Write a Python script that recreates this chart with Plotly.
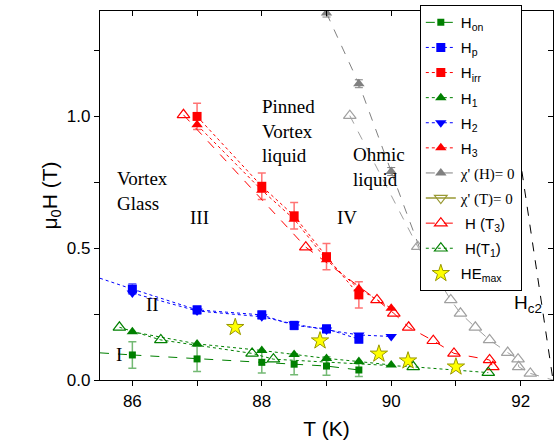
import plotly.graph_objects as go

# ---------------- data ----------------
T_on = [86, 87, 88, 88.5, 89, 89.5]
H_on = [0.095, 0.08, 0.067, 0.06, 0.053, 0.038]
H_on_err = [0.05, 0.048, 0.04, 0.04, 0.035, 0.025]
T_on_ext = [85.5, 86]
H_on_ext = [0.103, 0.095]

T_p = [86, 87, 88, 88.5, 89, 89.5]
H_p = [0.345, 0.266, 0.247, 0.207, 0.194, 0.155]
H_p_err = [0.02, 0.015, 0.015, 0.015, 0.015, 0.015]
T_p_ext = [85.5, 86]
H_p_ext = [0.386, 0.345]

T_irr = [87, 88, 88.5, 89, 89.5]
H_irr = [1.0, 0.735, 0.623, 0.468, 0.323]
H_irr_err = [0.05, 0.05, 0.05, 0.05, 0.05]

T_1 = [86, 87, 88, 88.5, 89, 89.5, 90]
H_1 = [0.183, 0.137, 0.112, 0.097, 0.082, 0.07, 0.057]

T_2 = [86, 87, 88, 88.5, 89, 89.5, 90]
H_2 = [0.33, 0.262, 0.24, 0.212, 0.19, 0.171, 0.165]

T_3 = [87, 88, 88.5, 89, 89.5, 90]
H_3 = [0.968, 0.72, 0.61, 0.456, 0.346, 0.272]

T_chiH = [89.0, 89.5, 90.0]
H_chiH = [1.392, 1.124, 0.791]
T_chiH_ext = [90.0, 90.44]
H_chiH_ext = [0.791, 0.5]

T_chiT = [89.36, 90.41, 90.92, 91.07, 91.3, 91.52, 91.8, 91.96, 91.97, 92.15]
H_chiT = [1.003, 0.506, 0.304, 0.253, 0.2, 0.152, 0.104, 0.079, 0.05, 0.025]
T_chiT_ext = [92.15, 92.5]
H_chiT_ext = [0.025, 0.0]

T_T3 = [86.79, 88.68, 89.78, 90.04, 90.27, 90.65, 90.97, 91.52, 91.57]
H_T3 = [1.006, 0.504, 0.304, 0.253, 0.2, 0.149, 0.101, 0.076, 0.05]

T_T1 = [85.8, 86.44, 87.85, 88.18, 90.34, 91.5]
H_T1 = [0.2, 0.152, 0.101, 0.079, 0.05, 0.028]

T_HE = [87.59, 88.9, 89.81, 90.26, 91.0]
H_HE = [0.2, 0.149, 0.099, 0.073, 0.05]

T_c2 = [91.65, 92.5]
H_c2 = [1.4, 0.0]

x_ticks = [86, 88, 90, 92]
y_ticks = [0.0, 0.5, 1.0]

GREEN = "#008000"
BLUE = "#0000FF"
RED = "#FF0000"
GRAY = "#808080"
OLIVE = "#999933"

fig = go.Figure()

def line_only(x, y, color, dash):
    fig.add_trace(go.Scatter(x=x, y=y, mode="lines", line=dict(color=color, width=1, dash=dash),
                             showlegend=False, hoverinfo="skip"))

# extension / guide lines
line_only(T_on_ext, H_on_ext, GREEN, "dash")
line_only(T_p_ext, H_p_ext, BLUE, "dot")
line_only(T_chiH_ext, H_chiH_ext, GRAY, "dash")
line_only(T_chiT_ext, H_chiT_ext, "#A0A0A0", "dash")
line_only(T_c2, H_c2, "black", "dash")

# gray open triangles (no legend entry)
fig.add_trace(go.Scatter(x=T_chiT, y=H_chiT, mode="lines+markers",
                         line=dict(color="#A0A0A0", width=1, dash="dash"),
                         marker=dict(symbol="triangle-up-open", size=11, color="#A0A0A0", line=dict(width=1.2)),
                         showlegend=False))

fig.add_trace(go.Scatter(x=T_on, y=H_on, mode="lines+markers", name="H<sub>on</sub>", legendgroup="g1",
                         line=dict(color=GREEN, width=1, dash="dash"),
                         marker=dict(symbol="square", size=7, color=GREEN),
                         error_y=dict(type="data", array=H_on_err, color="rgba(0,128,0,0.55)", thickness=1.5, width=4)))
fig.add_trace(go.Scatter(x=T_p, y=H_p, mode="lines+markers", name="H<sub>p</sub>", legendgroup="g2",
                         line=dict(color=BLUE, width=1, dash="dot"),
                         marker=dict(symbol="square", size=9, color=BLUE),
                         error_y=dict(type="data", array=H_p_err, color="rgba(0,0,255,0.55)", thickness=1.5, width=4)))
fig.add_trace(go.Scatter(x=T_irr, y=H_irr, mode="lines+markers", name="H<sub>irr</sub>", legendgroup="g3",
                         line=dict(color=RED, width=1, dash="dot"),
                         marker=dict(symbol="square", size=9, color=RED),
                         error_y=dict(type="data", array=H_irr_err, color="rgba(255,0,0,0.55)", thickness=1.5, width=4)))
fig.add_trace(go.Scatter(x=T_1, y=H_1, mode="lines+markers", name="H<sub>1</sub>", legendgroup="g4",
                         line=dict(color=GREEN, width=1, dash="dot"),
                         marker=dict(symbol="triangle-up", size=10, color=GREEN)))
fig.add_trace(go.Scatter(x=T_2, y=H_2, mode="lines+markers", name="H<sub>2</sub>", legendgroup="g5",
                         line=dict(color=BLUE, width=1, dash="dot"),
                         marker=dict(symbol="triangle-down", size=10, color=BLUE)))
fig.add_trace(go.Scatter(x=T_3, y=H_3, mode="lines+markers", name="H<sub>3</sub>", legendgroup="g6",
                         line=dict(color=RED, width=1, dash="dot"),
                         marker=dict(symbol="triangle-up", size=10, color=RED)))
fig.add_trace(go.Scatter(x=T_chiH, y=H_chiH, mode="lines+markers", legendgroup="g7",
                         name="<span style=\"font-family:'Liberation Serif'\">χ' (H)= 0</span>",
                         line=dict(color=GRAY, width=1, dash="dash"),
                         marker=dict(symbol="triangle-up", size=10, color=GRAY),
                         error_y=dict(type="data", array=[0.015, 0.015, 0.015], color=GRAY, thickness=1, width=4)))
fig.add_trace(go.Scatter(x=[None], y=[None], mode="lines+markers", legendgroup="g8",
                         name="<span style=\"font-family:'Liberation Serif'\">χ' (T)= 0</span>",
                         line=dict(color=OLIVE, width=1.5),
                         marker=dict(symbol="triangle-down-open", size=11, color=OLIVE, line=dict(width=1.2))))
fig.add_trace(go.Scatter(x=T_T3, y=H_T3, mode="lines+markers", name=" H (T<sub>3</sub>)", legendgroup="g9",
                         line=dict(color=RED, width=1, dash="dash"),
                         marker=dict(symbol="triangle-up-open", size=11, color=RED, line=dict(width=1.2))))
fig.add_trace(go.Scatter(x=T_T1, y=H_T1, mode="lines+markers", name=" H(T<sub>1</sub>)", legendgroup="g10",
                         line=dict(color=GREEN, width=1, dash="dot"),
                         marker=dict(symbol="triangle-up-open", size=11, color=GREEN, line=dict(width=1.2))))
fig.add_trace(go.Scatter(x=T_HE, y=H_HE, mode="markers", name="HE<sub>max</sub>", legendgroup="g11",
                         marker=dict(symbol="star", size=13, color="#FFFF00", line=dict(color="#999900", width=1))))

# dummy traces for mirrored (inside) ticks on top / right
fig.add_trace(go.Scatter(x=[None], y=[None], xaxis="x2", yaxis="y", showlegend=False, hoverinfo="skip"))
fig.add_trace(go.Scatter(x=[None], y=[None], xaxis="x", yaxis="y2", showlegend=False, hoverinfo="skip"))

serif = dict(family="Liberation Serif", size=19, color="black")
ann = [
    dict(x=85.73, y=0.718, text="Vortex<br>Glass", xanchor="left", align="left"),
    dict(x=87.04, y=0.615, text="III", xanchor="center"),
    dict(x=86.31, y=0.285, text="II", xanchor="center"),
    dict(x=85.8, y=0.095, text="I", xanchor="center"),
    dict(x=87.98, y=0.943, text="Pinned<br>Vortex<br>liquid", xanchor="left", align="left"),
    dict(x=89.38, y=0.81, text="Ohmic<br>liquid", xanchor="left", align="left"),
    dict(x=89.31, y=0.615, text="IV", xanchor="center"),
]
annotations = [dict(a, xref="x", yref="y", yanchor="middle", showarrow=False, font=serif) for a in ann]
annotations.append(dict(x=91.86, y=0.29, xref="x", yref="y", text="H<sub>c2</sub>", xanchor="left",
                        yanchor="middle", showarrow=False,
                        font=dict(family="Liberation Sans", size=19, color="black")))

axis_common = dict(showgrid=False, zeroline=False, showline=True, linecolor="black", linewidth=1.2,
                   tickcolor="black", ticklen=5, tickwidth=1.2)

fig.update_layout(
    width=555, height=441,
    margin=dict(l=100, r=2, t=11, b=61),
    paper_bgcolor="white", plot_bgcolor="white",
    font=dict(family="Liberation Sans", size=17, color="black"),
    showlegend=True,
    legend=dict(x=0.706, y=1.016, xanchor="left", yanchor="top", bgcolor="white",
                bordercolor="black", borderwidth=1, font=dict(size=15), tracegroupgap=2.6,
                itemwidth=30, maxheight=420),
    xaxis=dict(range=[85.5, 92.5], tickvals=x_ticks, ticks="outside",
               minor=dict(dtick=1, tick0=85, ticks="outside", ticklen=5, tickcolor="black"),
               title=dict(text="T (K)", font=dict(size=21), standoff=11), **axis_common),
    xaxis2=dict(range=[85.5, 92.5], overlaying="x", side="top", anchor="y", tickvals=x_ticks,
                ticks="inside", showticklabels=False,
                minor=dict(dtick=1, tick0=85, ticks="inside", ticklen=5, tickcolor="black"),
                **axis_common),
    yaxis=dict(range=[0, 1.4], tickvals=y_ticks, tickformat=".1f", ticks="outside",
               minor=dict(dtick=0.25, tick0=0, ticks="outside", ticklen=5, tickcolor="black"),
               title=dict(text="μ<sub>0</sub>H (T)", font=dict(size=21), standoff=3), **axis_common),
    yaxis2=dict(range=[0, 1.4], overlaying="y", side="right", anchor="x", tickvals=y_ticks,
                ticks="inside", showticklabels=False,
                minor=dict(dtick=0.25, tick0=0, ticks="inside", ticklen=5, tickcolor="black"),
                **axis_common),
    annotations=annotations,
)

fig.write_html("out.html", config={"displayModeBar": False},
               post_script="document.body.style.margin='0px';")
